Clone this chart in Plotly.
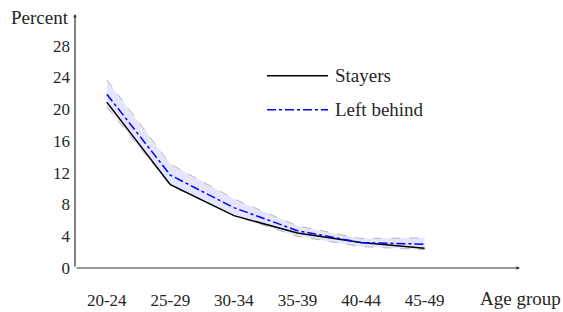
import plotly.graph_objects as go

age_groups = ["20-24", "25-29", "30-34", "35-39", "40-44", "45-49"]
stayers = [20.9, 10.5, 6.6, 4.4, 3.2, 2.5]
left_behind = [21.9, 11.7, 7.6, 4.7, 3.2, 3.0]
band_upper = [23.7, 13.1, 8.7, 5.3, 3.7, 3.8]
band_lower = [20.3, 10.4, 6.6, 4.0, 2.7, 2.3]
y_ticks = [0, 4, 8, 12, 16, 20, 24, 28]

xs = list(range(len(age_groups)))
FONT = "Liberation Serif"
TXT = "#262626"

fig = go.Figure()
fig.add_trace(go.Scatter(x=xs, y=band_lower, mode="lines",
                         line=dict(color="#b8b8b8", width=1, dash="dash"),
                         showlegend=False, hoverinfo="skip"))
fig.add_trace(go.Scatter(x=xs, y=band_upper, mode="lines", fill="tonexty",
                         fillcolor="rgba(0,0,255,0.1)",
                         line=dict(color="#b8b8b8", width=1, dash="dash"),
                         showlegend=False, hoverinfo="skip"))
fig.add_trace(go.Scatter(x=xs, y=stayers, mode="lines", name="Stayers",
                         line=dict(color="black", width=1.5), showlegend=False))
fig.add_trace(go.Scatter(x=xs, y=left_behind, mode="lines", name="Left behind",
                         line=dict(color="blue", width=1.5, dash="dashdot"),
                         showlegend=False))

# axis lines with arrows
fig.add_annotation(x=6.5, y=0, ax=-0.5, ay=0, xref="x", yref="y", axref="x", ayref="y",
                   showarrow=True, arrowhead=2, arrowsize=0.6, arrowwidth=1.2,
                   arrowcolor="#333", text="")
fig.add_annotation(x=-0.5, y=32, ax=-0.5, ay=0, xref="x", yref="y", axref="x", ayref="y",
                   showarrow=True, arrowhead=2, arrowsize=0.6, arrowwidth=1.2,
                   arrowcolor="#333", text="")

fig.add_annotation(x=-0.5, y=31.6, xref="x", yref="y", text="Percent", showarrow=False,
                   xanchor="right", yanchor="middle", xshift=-4,
                   font=dict(family=FONT, size=19, color=TXT))
fig.add_annotation(x=6.5, y=0, xref="x", yref="y", text="Age group", showarrow=False,
                   xanchor="center", yanchor="middle", yshift=-30,
                   font=dict(family=FONT, size=19, color=TXT))

# legend
leg = [("Stayers", dict(color="black", width=1.5), 0.757),
       ("Left behind", dict(color="blue", width=1.5, dash="dashdot"), 0.623)]
for name, ln, yy in leg:
    fig.add_shape(type="line", xref="paper", yref="paper",
                  x0=(267 - 75) / 445, x1=(328 - 75) / 445, y0=yy, y1=yy, line=ln)
    fig.add_annotation(xref="paper", yref="paper", x=(333 - 75) / 445, y=yy, text=name,
                       showarrow=False, xanchor="left", yanchor="middle",
                       font=dict(family=FONT, size=19, color=TXT))

fig.update_layout(
    width=563, height=312,
    margin=dict(l=75, r=43, t=14, b=44),
    plot_bgcolor="white", paper_bgcolor="white",
    font=dict(family=FONT, size=17, color=TXT),
    xaxis=dict(range=[-0.5, 6.5], tickvals=xs, ticktext=age_groups, showgrid=False,
               zeroline=False, showline=False, ticks="", ticklabelstandoff=20,
               automargin=False, fixedrange=True),
    yaxis=dict(range=[0, 32], tickvals=y_ticks, showgrid=False, zeroline=False,
               showline=False, ticks="", ticklabelstandoff=4, automargin=False,
               fixedrange=True),
)

fig.write_html(
    "out.html",
    config={"displayModeBar": False},
    post_script="document.body.style.margin='0';document.body.style.overflow='hidden';",
)
